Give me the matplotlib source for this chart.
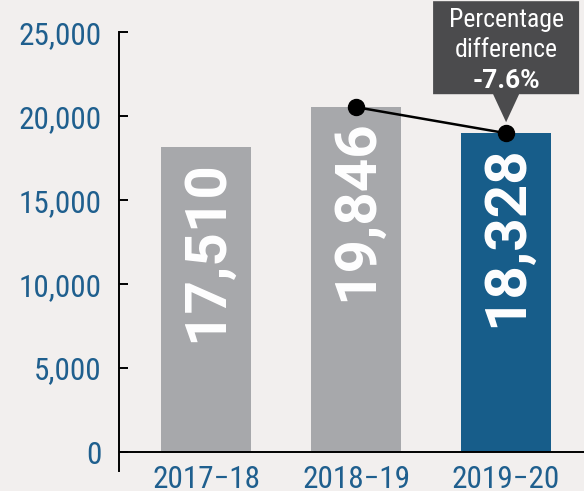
import matplotlib
matplotlib.use("Agg")
import matplotlib.pyplot as plt
import matplotlib.transforms as mtransforms
from matplotlib.patches import Polygon

# ---- data ----
categories = ["2017\u221218", "2018\u221219", "2019\u221220"]
bar_heights = [18150, 20540, 18990]          # heights read against the axis
value_labels = ["17,510", "19,846", "18,328"]  # printed values
bar_colors = ["#a7a8ab", "#a7a8ab", "#175d8a"]
yticks = [0, 5000, 10000, 15000, 20000, 25000]
ytick_labels = ["0", "5,000", "10,000", "15,000", "20,000", "25,000"]
callout_lines = ["Percentage", "difference", "-7.6%"]

BG = "#f2efee"
BLUE_TXT = "#1f5f8e"
COND = ["Roboto Condensed", "Liberation Sans Narrow", "Roboto", "DejaVu Sans"]
BOLD = ["Roboto", "DejaVu Sans"]

fig = plt.figure(figsize=(5.84, 4.91), dpi=100, facecolor=BG)
ax = fig.add_axes([118.5 / 584, 1 - 471 / 491, 1 - 118.5 / 584, (471 - 32.3) / 491])
ax.set_facecolor(BG)

x = list(range(len(categories)))
ax.bar(x, bar_heights, width=0.6, color=bar_colors, zorder=2)
ax.set_xlim(-0.587, 2.52)
ax.set_ylim(-1130, 25000)
ax.axhline(0, color="black", lw=1.4, zorder=3)

for s in ["top", "right", "bottom"]:
    ax.spines[s].set_visible(False)
ax.spines["left"].set_linewidth(1.4)
ax.spines["left"].set_color("black")

ax.set_yticks(yticks)
ax.set_yticklabels(ytick_labels, family=COND, fontsize=22.5, color=BLUE_TXT)
ax.tick_params(axis="y", direction="in", length=6.5, width=1.4, pad=12)
ax.set_xticks(x)
ax.set_xticklabels(categories, family=COND, fontsize=22.5, color=BLUE_TXT)
ax.tick_params(axis="x", length=0, pad=-4.5)

# value labels inside bars
for xi, h, lab in zip(x, bar_heights, value_labels):
    ax.annotate(lab, xy=(xi, h), xytext=(0, -9), textcoords="offset points",
                rotation=90, ha="center", va="top", color="white",
                fontsize=42, fontweight="bold", family=BOLD, zorder=4)

# connecting line between last two bars
ax.plot(x[1:], bar_heights[1:], color="black", lw=1.8, marker="o",
        markersize=11.5, zorder=5)

# callout
fig.canvas.draw()
px, py = ax.transData.transform((x[2], bar_heights[2]))
tr = mtransforms.Affine2D().translate(px, py)
verts = [(0, 11), (-13, 39), (-73, 39), (-73, 132), (73, 132), (73, 39), (13, 39)]
poly = Polygon(verts, closed=True, facecolor="#4b4b4d", edgecolor="none",
               transform=tr, clip_on=False, zorder=6)
fig.add_artist(poly)
ident = mtransforms.IdentityTransform()
fig.text(px, py + 106, callout_lines[0], transform=ident,
         ha="center", va="baseline", color="white", fontsize=18.5, family=COND, zorder=7)
fig.text(px, py + 76, callout_lines[1], transform=ident,
         ha="center", va="baseline", color="white", fontsize=18.5, family=COND, zorder=7)
fig.text(px, py + 45, callout_lines[2], transform=ident,
         ha="center", va="baseline", color="white", fontsize=19, fontweight="bold",
         family=BOLD, zorder=7)

fig.savefig("out.png", dpi=100, facecolor=BG)
